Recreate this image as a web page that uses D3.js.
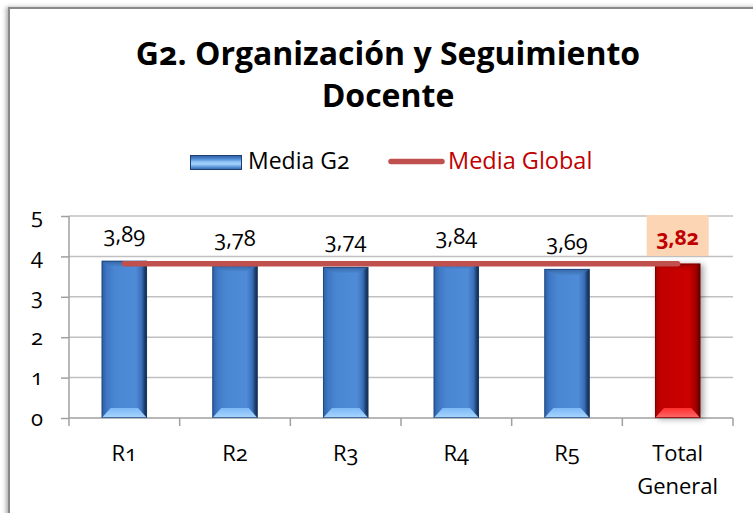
<!DOCTYPE html>
<html><head><meta charset="utf-8">
<script src="https://cdn.jsdelivr.net/npm/d3@7"></script>
<style>
body{margin:0;background:#fff;}
svg text{font-family:"Open Sans","Noto Sans",sans-serif;font-feature-settings:"onum" 1;font-variant-numeric:oldstyle-nums;}
</style></head><body>
<script>
const categories = ["R1","R2","R3","R4","R5","Total General"];
const mediaG2 = [3.89,3.78,3.74,3.84,3.69,3.82];
const mediaGlobal = 3.82;
const yTicks = [0,1,2,3,4,5];
const valueLabels = ["3,89","3,78","3,74","3,84","3,69","3,82"];

const W=753,H=513;
const svg=d3.select("body").append("svg").attr("width",W).attr("height",H);
const defs=svg.append("defs");

const fs=defs.append("filter").attr("id","fshadow").attr("x","-5%").attr("y","-5%").attr("width","110%").attr("height","110%");
fs.append("feDropShadow").attr("dx",-2).attr("dy",0).attr("stdDeviation",2).attr("flood-color","#777").attr("flood-opacity",0.6);
svg.append("rect").attr("x",9).attr("y",8).attr("width",W+20).attr("height",H+20)
  .attr("fill","#fff").attr("stroke","#8a8a8a").attr("stroke-width",2).attr("filter","url(#fshadow)");

function hgrad(id,stops){const g=defs.append("linearGradient").attr("id",id).attr("x1","0").attr("x2","1").attr("y1","0").attr("y2","0");
  stops.forEach(s=>g.append("stop").attr("offset",s[0]).attr("stop-color",s[1]));}
function vgrad(id,stops){const g=defs.append("linearGradient").attr("id",id).attr("x1","0").attr("x2","0").attr("y1","0").attr("y2","1");
  stops.forEach(s=>g.append("stop").attr("offset",s[0]).attr("stop-color",s[1]));}
hgrad("blueBody",[["0","#2c5fa6"],["0.12","#3f78c4"],["0.3","#4a87d2"],["0.75","#4f8bd6"],["0.88","#3a6fba"],["0.94","#1f4273"],["1","#0f2444"]]);
vgrad("blueBottom",[["0","#7cb8f5"],["1","#a8d6ff"]]);
vgrad("blueTop",[["0","#2f5e9e"],["1","#4a84cc"]]);
vgrad("legBlue",[["0","#2a5796"],["0.25","#4a86d0"],["0.45","#8cc2f5"],["0.6","#a6d3fb"],["0.8","#5a95da"],["1","#2a5a98"]]);
hgrad("redBody",[["0","#a00000"],["0.12","#c00000"],["0.75","#cc0000"],["0.9","#a00000"],["1","#5a0000"]]);
vgrad("redBottom",[["0","#ff3030"],["1","#ff6a6a"]]);
vgrad("redTop",[["0","#980000"],["1","#c20000"]]);
const sh=defs.append("filter").attr("id","bshadow").attr("x","-30%").attr("y","-10%").attr("width","160%").attr("height","120%");
sh.append("feDropShadow").attr("dx",3).attr("dy",1).attr("stdDeviation",3).attr("flood-color","#000").attr("flood-opacity",0.35);

const x=d3.scaleBand().domain(categories).range([69,733]).padding(0);
const y=d3.scaleLinear().domain([0,5]).range([418,216]);

const title=svg.append("text").attr("text-anchor","middle").attr("font-weight","bold").attr("font-size",32).attr("fill","#000");
title.append("tspan").attr("x",388).attr("y",65).text("G2. Organización y Seguimiento");
title.append("tspan").attr("x",388).attr("y",107).text("Docente");

svg.append("g").selectAll("line").data(yTicks.filter(d=>d>0)).join("line")
  .attr("x1",69).attr("x2",733).attr("y1",d=>y(d)).attr("y2",d=>y(d))
  .attr("stroke","#c0c0c0").attr("stroke-width",1.5);

const ya=svg.append("g").attr("transform","translate(69,0)").call(d3.axisLeft(y).tickValues(yTicks).tickSize(8).tickPadding(18).tickFormat(d3.format("d")));
ya.select(".domain").attr("stroke","#a0a0a0").attr("stroke-width",1.5).attr("d","M0,"+y(5)+"V"+y(0));
ya.selectAll(".tick line").attr("stroke","#a0a0a0").attr("stroke-width",1.5);
ya.selectAll(".tick text").attr("font-size",22).attr("fill","#000");

const xa=svg.append("g").attr("transform","translate(0,"+y(0)+")").call(d3.axisBottom(x).tickSize(0).tickFormat(""));
xa.select(".domain").attr("stroke","#a0a0a0").attr("stroke-width",1.5).attr("d","M69,0H733");
const bounds=categories.map(c=>x(c)).concat([x(categories[categories.length-1])+x.bandwidth()]);
svg.append("g").selectAll("line").data(bounds).join("line")
  .attr("x1",d=>d).attr("x2",d=>d).attr("y1",y(0)).attr("y2",y(0)+8)
  .attr("stroke","#a0a0a0").attr("stroke-width",1.5);

categories.forEach(c=>{
  const cx=x(c)+x.bandwidth()/2;
  const parts=c==="Total General"?["Total","General"]:[c];
  parts.forEach((p,i)=>svg.append("text").attr("x",cx).attr("y",461+i*33).attr("text-anchor","middle")
    .attr("font-size",22).attr("fill","#000").text(p));
});

const bw=x.bandwidth()*0.41;
categories.forEach((c,i)=>{
  const isTot=c==="Total General";
  const x0=x(c)+x.bandwidth()/2-bw/2, yt=y(mediaG2[i]), yb=y(0);
  const g=svg.append("g");
  if(isTot) g.attr("filter","url(#bshadow)");
  g.append("rect").attr("x",x0).attr("y",yt).attr("width",bw).attr("height",yb-yt)
    .attr("fill",isTot?"url(#redBody)":"url(#blueBody)");
  const ins=9, th=6, bh=10;
  g.append("polygon").attr("points",[[x0,yt],[x0+bw,yt],[x0+bw-ins,yt+th],[x0+ins,yt+th]].map(p=>p.join(",")).join(" "))
    .attr("fill",isTot?"url(#redTop)":"url(#blueTop)").attr("opacity",0.8);
  g.append("polygon").attr("points",[[x0,yb],[x0+bw,yb],[x0+bw-ins,yb-bh],[x0+ins,yb-bh]].map(p=>p.join(",")).join(" "))
    .attr("fill",isTot?"url(#redBottom)":"url(#blueBottom)");
  g.append("rect").attr("x",x0+0.5).attr("y",yt+0.5).attr("width",bw-1).attr("height",yb-yt-1)
    .attr("fill","none").attr("stroke",isTot?"#6a0000":"#1c3f72").attr("stroke-width",1).attr("opacity",0.7);
});

const xc0=x(categories[0])+x.bandwidth()/2, xc1=x(categories[categories.length-1])+x.bandwidth()/2;
svg.append("line").attr("x1",xc0).attr("x2",xc1).attr("y1",y(mediaGlobal)).attr("y2",y(mediaGlobal))
  .attr("stroke","#c0504d").attr("stroke-width",5.5).attr("stroke-linecap","round");

categories.forEach((c,i)=>{
  const cx=x(c)+x.bandwidth()/2;
  const isTot=c==="Total General";
  if(isTot){
    svg.append("rect").attr("x",cx-31).attr("y",215).attr("width",62).attr("height",41).attr("fill","#fcd5b4");
    svg.append("text").attr("x",cx).attr("y",y(mediaG2[i])-19).attr("text-anchor","middle")
      .attr("font-size",21).attr("font-weight","bold").attr("fill","#c00000").text(valueLabels[i]);
  } else {
    svg.append("text").attr("x",cx).attr("y",y(mediaG2[i])-19).attr("text-anchor","middle")
      .attr("font-size",22).attr("fill","#000").text(valueLabels[i]);
  }
});

const lg=svg.append("g");
lg.append("rect").attr("x",190).attr("y",155).attr("width",52).attr("height",15).attr("fill","url(#legBlue)");
lg.append("rect").attr("x",190.5).attr("y",155.5).attr("width",51).attr("height",14).attr("fill","none").attr("stroke","#1c3f72");
lg.append("text").attr("x",248).attr("y",169).attr("font-size",23).attr("fill","#000").text("Media G2");
lg.append("line").attr("x1",391).attr("x2",442).attr("y1",161.5).attr("y2",161.5).attr("stroke","#c0504d").attr("stroke-width",5.5).attr("stroke-linecap","round");
lg.append("text").attr("x",448).attr("y",169).attr("font-size",23.5).attr("fill","#c00000").text("Media Global");
</script>
</body></html>
